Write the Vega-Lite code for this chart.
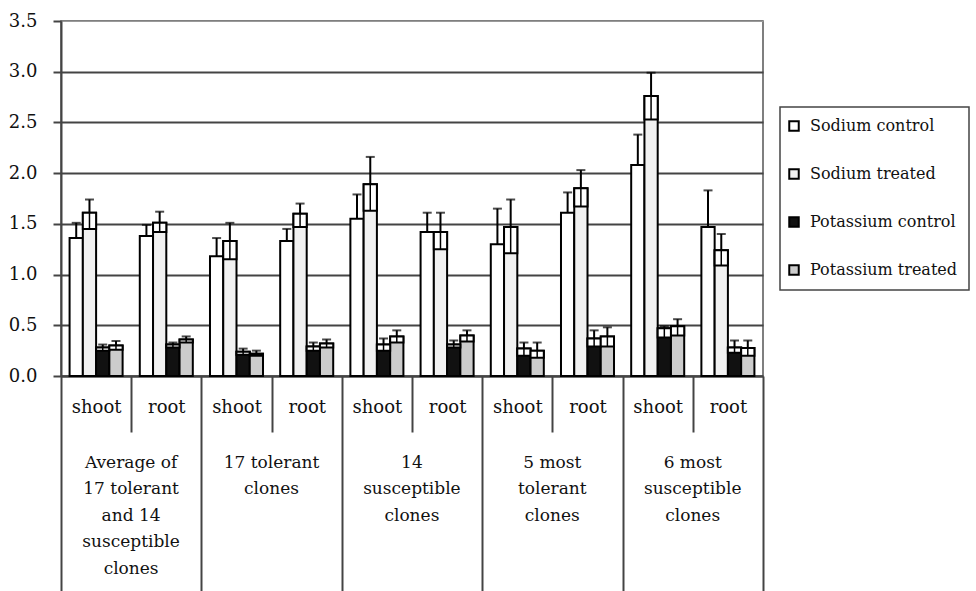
{
  "$schema": "https://vega.github.io/schema/vega-lite/v6.json",
  "autosize": "none",
  "width": 702,
  "height": 355,
  "padding": {"left": 61, "top": 21, "right": 213, "bottom": 215},
  "background": "white",
  "config": {
    "font": "DejaVu Serif",
    "view": {"stroke": "#555", "strokeWidth": 1.5},
    "axis": {"labelFont": "DejaVu Serif", "labelFontSize": 18, "labelColor": "#111", "title": null},
    "legend": {"labelFont": "DejaVu Serif", "labelFontSize": 16, "labelColor": "#111"}
  },
  "data": {
    "values": [
      {"group": "Average of\n17 tolerant\nand 14\nsusceptible\nclones", "tissue": "shoot", "series": "Sodium control", "value": 1.36, "lower": 1.21, "upper": 1.51},
      {"group": "Average of\n17 tolerant\nand 14\nsusceptible\nclones", "tissue": "shoot", "series": "Sodium treated", "value": 1.61, "lower": 1.45, "upper": 1.74},
      {"group": "Average of\n17 tolerant\nand 14\nsusceptible\nclones", "tissue": "shoot", "series": "Potassium control", "value": 0.28, "lower": 0.25, "upper": 0.31},
      {"group": "Average of\n17 tolerant\nand 14\nsusceptible\nclones", "tissue": "shoot", "series": "Potassium treated", "value": 0.3, "lower": 0.26, "upper": 0.345},
      {"group": "Average of\n17 tolerant\nand 14\nsusceptible\nclones", "tissue": "root", "series": "Sodium control", "value": 1.38, "lower": 1.27, "upper": 1.49},
      {"group": "Average of\n17 tolerant\nand 14\nsusceptible\nclones", "tissue": "root", "series": "Sodium treated", "value": 1.51, "lower": 1.42, "upper": 1.62},
      {"group": "Average of\n17 tolerant\nand 14\nsusceptible\nclones", "tissue": "root", "series": "Potassium control", "value": 0.31, "lower": 0.28, "upper": 0.33},
      {"group": "Average of\n17 tolerant\nand 14\nsusceptible\nclones", "tissue": "root", "series": "Potassium treated", "value": 0.36, "lower": 0.33, "upper": 0.39},
      {"group": "17 tolerant\nclones", "tissue": "shoot", "series": "Sodium control", "value": 1.18, "lower": 1.0, "upper": 1.36},
      {"group": "17 tolerant\nclones", "tissue": "shoot", "series": "Sodium treated", "value": 1.33, "lower": 1.15, "upper": 1.51},
      {"group": "17 tolerant\nclones", "tissue": "shoot", "series": "Potassium control", "value": 0.24, "lower": 0.21, "upper": 0.27},
      {"group": "17 tolerant\nclones", "tissue": "shoot", "series": "Potassium treated", "value": 0.22, "lower": 0.2, "upper": 0.25},
      {"group": "17 tolerant\nclones", "tissue": "root", "series": "Sodium control", "value": 1.33, "lower": 1.21, "upper": 1.45},
      {"group": "17 tolerant\nclones", "tissue": "root", "series": "Sodium treated", "value": 1.6, "lower": 1.47, "upper": 1.7},
      {"group": "17 tolerant\nclones", "tissue": "root", "series": "Potassium control", "value": 0.29, "lower": 0.25, "upper": 0.33},
      {"group": "17 tolerant\nclones", "tissue": "root", "series": "Potassium treated", "value": 0.32, "lower": 0.28, "upper": 0.36},
      {"group": "14\nsusceptible\nclones", "tissue": "shoot", "series": "Sodium control", "value": 1.55, "lower": 1.32, "upper": 1.79},
      {"group": "14\nsusceptible\nclones", "tissue": "shoot", "series": "Sodium treated", "value": 1.89, "lower": 1.63, "upper": 2.16},
      {"group": "14\nsusceptible\nclones", "tissue": "shoot", "series": "Potassium control", "value": 0.31, "lower": 0.25, "upper": 0.37},
      {"group": "14\nsusceptible\nclones", "tissue": "shoot", "series": "Potassium treated", "value": 0.39, "lower": 0.33, "upper": 0.45},
      {"group": "14\nsusceptible\nclones", "tissue": "root", "series": "Sodium control", "value": 1.42, "lower": 1.24, "upper": 1.61},
      {"group": "14\nsusceptible\nclones", "tissue": "root", "series": "Sodium treated", "value": 1.42, "lower": 1.25, "upper": 1.61},
      {"group": "14\nsusceptible\nclones", "tissue": "root", "series": "Potassium control", "value": 0.31, "lower": 0.28, "upper": 0.35},
      {"group": "14\nsusceptible\nclones", "tissue": "root", "series": "Potassium treated", "value": 0.4, "lower": 0.34, "upper": 0.45},
      {"group": "5 most\ntolerant\nclones", "tissue": "shoot", "series": "Sodium control", "value": 1.3, "lower": 0.95, "upper": 1.65},
      {"group": "5 most\ntolerant\nclones", "tissue": "shoot", "series": "Sodium treated", "value": 1.47, "lower": 1.21, "upper": 1.74},
      {"group": "5 most\ntolerant\nclones", "tissue": "shoot", "series": "Potassium control", "value": 0.27, "lower": 0.2, "upper": 0.33},
      {"group": "5 most\ntolerant\nclones", "tissue": "shoot", "series": "Potassium treated", "value": 0.25, "lower": 0.18, "upper": 0.33},
      {"group": "5 most\ntolerant\nclones", "tissue": "root", "series": "Sodium control", "value": 1.61, "lower": 1.42, "upper": 1.81},
      {"group": "5 most\ntolerant\nclones", "tissue": "root", "series": "Sodium treated", "value": 1.85, "lower": 1.67, "upper": 2.03},
      {"group": "5 most\ntolerant\nclones", "tissue": "root", "series": "Potassium control", "value": 0.37, "lower": 0.29, "upper": 0.45},
      {"group": "5 most\ntolerant\nclones", "tissue": "root", "series": "Potassium treated", "value": 0.39, "lower": 0.29, "upper": 0.48},
      {"group": "6 most\nsusceptible\nclones", "tissue": "shoot", "series": "Sodium control", "value": 2.08, "lower": 1.78, "upper": 2.38},
      {"group": "6 most\nsusceptible\nclones", "tissue": "shoot", "series": "Sodium treated", "value": 2.76, "lower": 2.53, "upper": 2.99},
      {"group": "6 most\nsusceptible\nclones", "tissue": "shoot", "series": "Potassium control", "value": 0.47, "lower": 0.38, "upper": 0.49},
      {"group": "6 most\nsusceptible\nclones", "tissue": "shoot", "series": "Potassium treated", "value": 0.49, "lower": 0.4, "upper": 0.56},
      {"group": "6 most\nsusceptible\nclones", "tissue": "root", "series": "Sodium control", "value": 1.47, "lower": 1.11, "upper": 1.83},
      {"group": "6 most\nsusceptible\nclones", "tissue": "root", "series": "Sodium treated", "value": 1.24, "lower": 1.09, "upper": 1.4},
      {"group": "6 most\nsusceptible\nclones", "tissue": "root", "series": "Potassium control", "value": 0.28, "lower": 0.23, "upper": 0.35},
      {"group": "6 most\nsusceptible\nclones", "tissue": "root", "series": "Potassium treated", "value": 0.275, "lower": 0.2, "upper": 0.35}
    ]
  },
  "transform": [
    {"calculate": "datum.group + '~' + datum.tissue", "as": "cat"}
  ],
  "resolve": {"axis": {"x": "independent"}},
  "layer": [
    {
      "mark": {"type": "bar", "stroke": "black", "strokeWidth": 2},
      "encoding": {
        "x": {
          "field": "cat", "type": "nominal", "sort": null,
          "scale": {"paddingInner": 0, "paddingOuter": 0},
          "axis": {
            "orient": "bottom",
            "labelAngle": 0,
            "labelFont": "DejaVu Serif",
            "labelExpr": "split(datum.value, '~')[1]",
            "labelBaseline": "middle",
            "labelPadding": {"condition": {"test": "!isValid(datum.value) || indexof(datum.value, '~root') >= 0", "value": -184}, "value": -25},
            "tickBand": "extent",
            "tickSize": {"condition": {"test": "!isValid(datum.value) || indexof(datum.value, '~root') >= 0", "value": 215}, "value": 56},
            "tickColor": "#444",
            "tickWidth": 2,
            "domainColor": "#444",
            "domainWidth": 2
          }
        },
        "xOffset": {
          "field": "series", "type": "nominal",
          "scale": {"domain": ["Sodium control", "Sodium treated", "Potassium control", "Potassium treated"], "paddingInner": 0, "paddingOuter": 0.648}
        },
        "y": {
          "field": "value", "type": "quantitative",
          "scale": {"domain": [0, 3.5], "nice": false},
          "axis": {
            "values": [0, 0.5, 1, 1.5, 2, 2.5, 3, 3.5],
            "format": ".1f",
            "labelFont": "DejaVu Serif",
            "grid": true,
            "gridColor": {"condition": {"test": "datum.value >= 3.5", "value": "#9a9a9a"}, "value": "#444"},
            "gridWidth": {"condition": {"test": "datum.value >= 3.5", "value": 1}, "value": 2},
            "tickSize": 8,
            "tickColor": "#444",
            "tickWidth": 2,
            "domainColor": "#444",
            "domainWidth": 2,
            "labelPadding": 16
          }
        },
        "fill": {
          "field": "series", "type": "nominal",
          "scale": {
            "domain": ["Sodium control", "Sodium treated", "Potassium control", "Potassium treated"],
            "range": ["#ffffff", "#f1f1f1", "#111111", "#cccccc"]
          },
          "legend": {
            "title": null,
            "orient": "none",
            "legendX": 719,
            "legendY": 86,
            "padding": 11,
            "strokeColor": "#444",
            "labelFont": "DejaVu Serif",
            "labelFontSize": 16,
            "symbolType": "square",
            "symbolSize": 90,
            "symbolStrokeColor": "black",
            "symbolOffset": -5,
            "labelOffset": 8,
            "labelLimit": 400,
            "rowPadding": 30,
            "encode": {
              "legend": {"update": {"strokeWidth": {"value": 1.5}}},
              "symbols": {"update": {"strokeWidth": {"value": 2}}}
            }
          }
        }
      }
    },
    {
      "transform": [{"filter": "datum.series !== 'Sodium control'"}],
      "mark": {"type": "bar", "fill": "white", "stroke": "black", "strokeWidth": 2},
      "encoding": {
        "x": {"field": "cat", "type": "nominal", "sort": null, "axis": null},
        "xOffset": {"field": "series", "type": "nominal"},
        "y": {"field": "lower", "type": "quantitative"},
        "y2": {"field": "value"}
      }
    },
    {
      "mark": {"type": "rule", "color": "black", "strokeWidth": 2},
      "encoding": {
        "x": {"field": "cat", "type": "nominal", "sort": null, "axis": null},
        "xOffset": {"field": "series", "type": "nominal"},
        "y": {"field": "value", "type": "quantitative"},
        "y2": {"field": "upper"}
      }
    },
    {
      "transform": [{"filter": "datum.series !== 'Sodium control'"}],
      "mark": {"type": "rule", "color": "black", "strokeWidth": 1.5},
      "encoding": {
        "x": {"field": "cat", "type": "nominal", "sort": null, "axis": null},
        "xOffset": {"field": "series", "type": "nominal"},
        "y": {"field": "lower", "type": "quantitative"},
        "y2": {"field": "value"}
      }
    },
    {
      "mark": {"type": "tick", "color": "black", "thickness": 2, "size": 9},
      "encoding": {
        "x": {
          "field": "cat", "type": "nominal", "sort": null,
          "axis": {
            "orient": "bottom",
            "labelAngle": 0,
            "labelFont": "DejaVu Serif",
            "labelFontSize": 17,
            "ticks": false,
            "domain": false,
            "labelExpr": "indexof(datum.value, '~shoot') >= 0 ? split(split(datum.value, '~')[0], '\\n') : ''",
            "labelOffset": 35,
            "labelAlign": "center",
            "labelBaseline": "top",
            "labelLineHeight": 26.5,
            "labelPadding": 78,
            "labelLimit": 200
          }
        },
        "xOffset": {"field": "series", "type": "nominal"},
        "y": {"field": "upper", "type": "quantitative"}
      }
    }
  ]
}
